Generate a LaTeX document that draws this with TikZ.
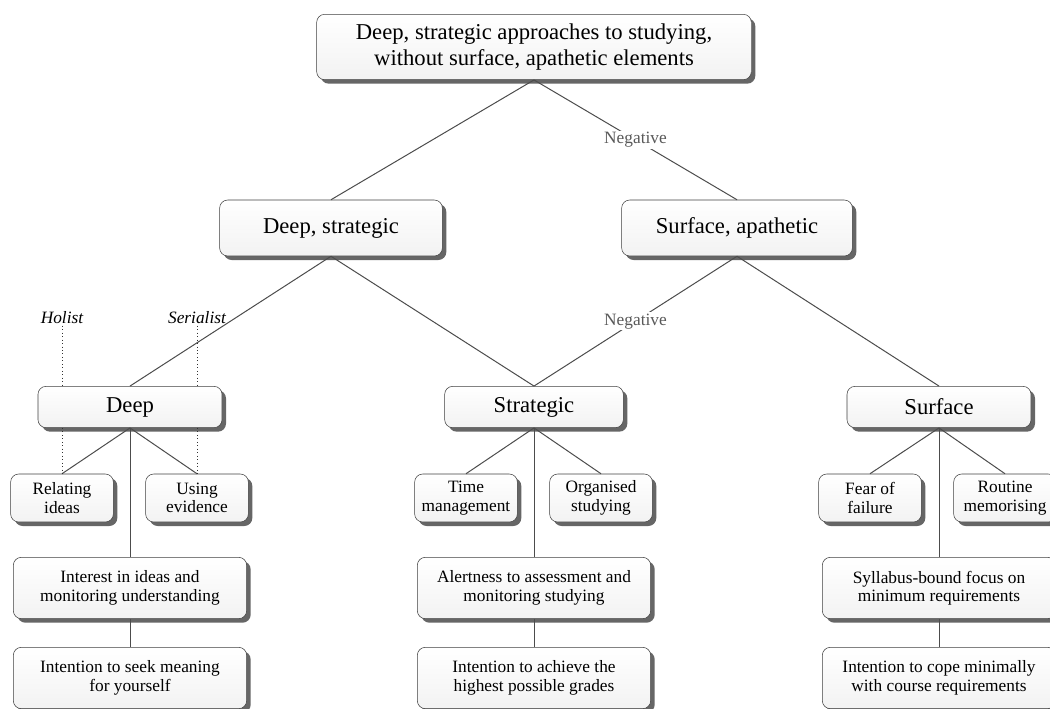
\documentclass[tikz,border=0pt]{standalone}
\usepackage{fontspec}
\setmainfont{Liberation Serif}
\usetikzlibrary{shadows}
\tikzset{%
  mybox/.style={draw=black!75, rounded corners=6pt, top color=white, bottom color=black!5,
    drop shadow={shadow xshift=3pt, shadow yshift=-3pt, fill=black!60, opacity=1},
    align=center, inner sep=2pt},
  bigbox/.style={mybox, font=\fontsize{17}{19}\selectfont},
  smallbox/.style={mybox, font=\fontsize{13}{13.8}\selectfont},
  myedge/.style={draw=black!70, line width=0.75pt},
  mydots/.style={draw=black!80, dotted, line width=0.6pt},
  mylabel/.style={fill=white, text=black!65, inner sep=1pt, font=\fontsize{13}{15}\selectfont},
  mystyle/.style={inner sep=1pt, font=\fontsize{13}{15}\selectfont\itshape}
}
\begin{document}
\begin{tikzpicture}[x=0.75pt, y=-0.75pt]
  \useasboundingbox (0,0) rectangle (1050,708);

% top levels
\node [bigbox, minimum width=326pt, minimum height=49pt] (T) at (534,47)
  {Deep, strategic approaches to studying,\\without surface, apathetic elements};
\node [bigbox, minimum width=167pt, minimum height=42pt] (DS) at (331,228) {Deep, strategic};
\node [bigbox, minimum width=173pt, minimum height=42pt] (SA) at (737,228) {Surface, apathetic};

% approaches
\node [bigbox, minimum width=138pt, minimum height=31pt] (D) at (130,407) {Deep};
\node [bigbox, minimum width=134pt, minimum height=31pt] (S) at (534,407) {Strategic};
\node [bigbox, minimum width=138pt, minimum height=31pt] (U) at (939,407) {Surface};

% sub-scales
\foreach \n / \x / \txt in {D1/62/Relating\\ideas, D2/197/Using\\evidence,
    S1/466/Time\\management, S2/601/Organised\\studying,
    U1/870/Fear of\\failure, U2/1005/Routine\\memorising}{
  \node [smallbox, minimum width=77pt, minimum height=36pt] (\n) at (\x,498) {\txt};
}

\foreach \n / \x / \txt in {D3/130/Interest in ideas and\\monitoring understanding,
    S3/534/Alertness to assessment and\\monitoring studying,
    U3/939/Syllabus-bound focus on\\minimum requirements}{
  \node [smallbox, minimum width=175pt, minimum height=46pt] (\n) at (\x,588) {\txt};
}

\foreach \n / \x / \txt in {D4/130/Intention to seek meaning\\for yourself,
    S4/534/Intention to achieve the\\highest possible grades,
    U4/939/Intention to cope minimally\\with course requirements}{
  \node [smallbox, minimum width=175pt, minimum height=46pt] (\n) at (\x,678) {\txt};
}

% edges
\draw [myedge] (T.south) -- (DS.north);
\draw [myedge] (T.south) -- (SA.north) node [mylabel, midway] {Negative};
\draw [myedge] (DS.south) -- (D.north);
\draw [myedge] (DS.south) -- (S.north);
\draw [myedge] (SA.south) -- (S.north) node [mylabel, midway] {Negative};
\draw [myedge] (SA.south) -- (U.north);

\foreach \a / \b in {D/D1, D/D2, D/D3, D3/D4, S/S1, S/S2, S/S3, S3/S4, U/U1, U/U2, U/U3, U3/U4}{
  \draw [myedge] (\a.south) -- (\b.north);
}

% holist, serialist
\node [mystyle] (H) at (62,318) {Holist};
\node [mystyle] (R) at (197,318) {Serialist};
\draw [mydots] (H.south) -- (H.south |- D.north);
\draw [mydots] (H.south |- D.south) -- (D1.north);
\draw [mydots] (R.south) -- (R.south |- D.north);
\draw [mydots] (R.south |- D.south) -- (D2.north);

\end{tikzpicture}
\end{document}
